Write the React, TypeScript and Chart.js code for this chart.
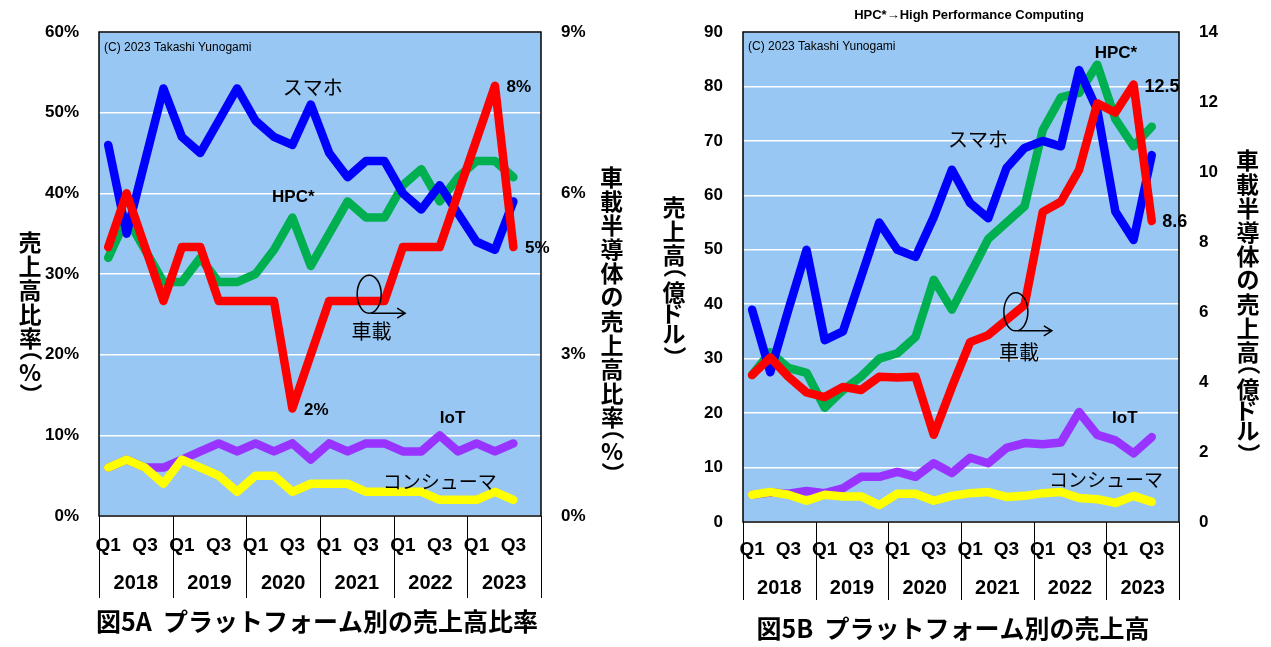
import React, { useEffect, useRef } from 'react';
import { Chart, registerables } from 'chart.js';

Chart.register(...registerables);

// ---------- categories ----------
const years = ['2018', '2019', '2020', '2021', '2022', '2023'];
const quarters = ['Q1', 'Q2', 'Q3', 'Q4'];
const quarterLabels = years.flatMap((y) => quarters.map((q) => `${y} ${q}`));
const shownQuarterTicks = ['Q1', 'Q3'];

// ---------- Fig 5A : share of sales (%) ----------
const shareSmartphone = [46, 35, 44, 53, 47, 45, 49, 53, 49, 47, 46, 51, 45, 42, 44, 44, 40, 38, 41, 37.5, 34, 33, 39];
const shareHPC = [32, 37, 33, 29, 29, 32, 29, 29, 30, 33, 37, 31, 35, 39, 37, 37, 41, 43, 39, 42, 44, 44, 42];
const shareIoT = [6, 7, 6, 6, 7, 8, 9, 8, 9, 8, 9, 7, 9, 8, 9, 9, 8, 8, 10, 8, 9, 8, 9];
const shareConsumer = [6, 7, 6, 4, 7, 6, 5, 3, 5, 5, 3, 4, 4, 4, 3, 3, 3, 3, 2, 2, 2, 3, 2];
const shareAutomotive = [5, 6, 5, 4, 5, 5, 4, 4, 4, 4, 2, 3, 4, 4, 4, 4, 5, 5, 5, 6, 7, 8, 5];

// ---------- Fig 5B : sales (100M USD) ----------
const salesSmartphone = [39, 27.5, 39, 50, 33.4, 35, 45, 55, 50, 48.7, 56, 64.7, 58.6, 55.8, 65, 68.7, 70, 69, 83, 75.7, 57, 51.8, 67.4];
const salesHPC = [27, 31.2, 28.3, 27.4, 21, 24.2, 26.7, 30, 31, 34, 44.5, 39, 45.5, 52, 55, 58, 72, 78, 78.8, 84, 74, 69, 72.6];
const salesIoT = [5, 5.4, 5.2, 5.7, 5.3, 6.2, 8.3, 8.3, 9.2, 8.3, 10.8, 9, 11.8, 10.8, 13.6, 14.5, 14.3, 14.6, 20.2, 16, 15, 12.6, 15.6];
const salesConsumer = [5, 5.5, 5, 3.9, 5, 4.7, 4.7, 3.1, 5.2, 5.2, 3.9, 4.8, 5.3, 5.5, 4.6, 4.8, 5.3, 5.5, 4.4, 4.2, 3.5, 4.8, 3.7];
const salesAutomotive = [4.2, 4.7, 4.15, 3.7, 3.57, 3.86, 3.77, 4.15, 4.13, 4.15, 2.49, 3.86, 5.14, 5.34, 5.77, 6.2, 8.86, 9.15, 10.06, 11.96, 11.7, 12.5, 8.6];

// ---------- styles ----------
const COLORS = {
  smartphone: '#0000FF',
  hpc: '#00B050',
  iot: '#9933FF',
  consumer: '#FFFF00',
  automotive: '#FF0000',
  plot: '#97C7F2',
};
const SANS = '"Liberation Sans", Arial, sans-serif';
const JP = '"Noto Sans CJK JP", sans-serif';

function drawVertical(ctx: CanvasRenderingContext2D, text: string, cx: number, cy: number, font: string) {
  const adv = (ch: string) =>
    ch === '（' || ch === '）' ? 13 : ch === '%' ? 18 : ch === 'ド' || ch === 'ル' ? 20 : 24;
  const chars = Array.from(text);
  const total = chars.reduce((s, c) => s + adv(c), 0);
  let y = cy - total / 2;
  ctx.save();
  ctx.font = font;
  ctx.fillStyle = '#000';
  for (const ch of chars) {
    const a = adv(ch);
    const yc = y + a / 2;
    ctx.textAlign = 'left';
    ctx.textBaseline = 'alphabetic';
    const m = ctx.measureText(ch);
    const vx = (m.actualBoundingBoxRight - m.actualBoundingBoxLeft) / 2;
    const vy = (m.actualBoundingBoxDescent - m.actualBoundingBoxAscent) / 2;
    ctx.save();
    ctx.translate(cx, yc);
    if (ch === '（' || ch === '）') ctx.rotate(Math.PI / 2);
    ctx.fillText(ch, -vx, -vy);
    ctx.restore();
    y += a;
  }
  ctx.restore();
}

const decoPlugin = {
  id: 'deco',
  beforeDraw(chart: any) {
    const { ctx, chartArea: a } = chart;
    ctx.save();
    ctx.fillStyle = '#fff';
    ctx.fillRect(0, 0, chart.width, chart.height);
    ctx.fillStyle = COLORS.plot;
    ctx.fillRect(a.left, a.top, a.right - a.left, a.bottom - a.top);
    ctx.restore();
  },
  afterDraw(chart: any, _args: any, opts: any) {
    const { ctx, chartArea: a } = chart;
    const xs = chart.scales.x;
    ctx.save();
    // plot border
    ctx.strokeStyle = '#000';
    ctx.lineWidth = 1.5;
    ctx.strokeRect(a.left, a.top, a.right - a.left, a.bottom - a.top);

    // year separators and year labels
    ctx.lineWidth = 1;
    for (let k = 0; k <= years.length; k++) {
      const x = Math.round(xs.getPixelForValue(k * 4 - 0.5)) + 0.5;
      ctx.beginPath();
      ctx.moveTo(x, a.bottom);
      ctx.lineTo(x, a.bottom + opts.sepLen);
      ctx.stroke();
    }
    ctx.fillStyle = '#000';
    ctx.font = `bold 20px ${SANS}`;
    ctx.textAlign = 'center';
    ctx.textBaseline = 'middle';
    years.forEach((y, k) => {
      ctx.fillText(y, xs.getPixelForValue(k * 4 + 1.5), a.bottom + opts.yearDy);
    });

    // figure caption
    ctx.font = `bold 25px ${JP}`;
    ctx.fillText(opts.caption, (a.left + a.right) / 2 + opts.captionDx, a.bottom + opts.captionDy);

    // subtitle
    if (opts.subtitle) {
      ctx.font = `bold 13px ${SANS}`;
      ctx.fillText(opts.subtitle, (a.left + a.right) / 2 + opts.subtitleDx, opts.subtitleY);
    }

    // vertical axis titles
    drawVertical(ctx, opts.leftTitle, a.left - 69, opts.leftTitleY, `bold 23px ${JP}`);
    drawVertical(ctx, opts.rightTitle, a.right + opts.rightTitleDx, opts.rightTitleY, `bold 23px ${JP}`);

    // annotations (data coordinates)
    const ys = chart.scales.y;
    for (const n of opts.notes) {
      ctx.font = n.font;
      ctx.textAlign = n.align || 'center';
      ctx.textBaseline = 'middle';
      ctx.fillStyle = '#000';
      ctx.fillText(n.text, xs.getPixelForValue(n.x), ys.getPixelForValue(n.y));
    }

    // ellipse marker with arrow pointing to the right axis
    const e = opts.ellipse;
    const ex = xs.getPixelForValue(e.x);
    const ey = ys.getPixelForValue(e.y);
    ctx.strokeStyle = '#000';
    ctx.lineWidth = 1.5;
    ctx.beginPath();
    ctx.ellipse(ex, ey, 12, 19, 0, 0, Math.PI * 2);
    ctx.stroke();
    const ay = ey + 19;
    const ax0 = ex + 2;
    const ax1 = ex + 36;
    ctx.beginPath();
    ctx.moveTo(ax0, ay);
    ctx.lineTo(ax1, ay);
    ctx.moveTo(ax1 - 8, ay - 5);
    ctx.lineTo(ax1, ay);
    ctx.lineTo(ax1 - 8, ay + 5);
    ctx.stroke();
    ctx.restore();
  },
};

function lineDs(label: string, data: number[], color: string, axis: string) {
  return {
    label,
    data,
    borderColor: color,
    backgroundColor: color,
    borderWidth: 8.5,
    borderJoinStyle: 'round' as const,
    borderCapStyle: 'round' as const,
    pointRadius: 0,
    pointHoverRadius: 0,
    tension: 0,
    fill: false,
    yAxisID: axis,
  };
}

function makeConfig(p: any) {
  const tickFont = { family: SANS, size: 17, weight: 'bold' as const };
  return {
    type: 'line' as const,
    data: {
      labels: quarterLabels,
      datasets: [
        lineDs('車載', p.automotive, COLORS.automotive, 'y1'),
        lineDs('スマホ', p.smartphone, COLORS.smartphone, 'y'),
        lineDs('HPC*', p.hpc, COLORS.hpc, 'y'),
        lineDs('コンシューマ', p.consumer, COLORS.consumer, 'y'),
        lineDs('IoT', p.iot, COLORS.iot, 'y'),
      ],
    },
    options: {
      responsive: false,
      animation: false as const,
      events: [],
      layout: { padding: { top: 32, left: 0, right: 0, bottom: 0 } },
      plugins: {
        legend: { display: false },
        tooltip: { enabled: false },
        title: { display: false },
        deco: p.deco,
      },
      scales: {
        x: {
          type: 'category' as const,
          offset: true,
          grid: { display: false, drawTicks: false },
          border: { display: false },
          ticks: {
            autoSkip: false,
            maxRotation: 0,
            minRotation: 0,
            padding: p.qPad,
            color: '#000',
            font: { family: SANS, size: 19, weight: 'bold' as const },
            callback: (_v: any, i: number) => {
              const q = quarters[i % 4];
              return shownQuarterTicks.includes(q) ? q : '';
            },
          },
          afterFit: (s: any) => {
            s.height = p.xHeight;
            s.paddingLeft = 0;
            s.paddingRight = 0;
          },
        },
        y: {
          position: 'left' as const,
          min: 0,
          max: p.yMax,
          ticks: {
            stepSize: p.yStep,
            padding: 20,
            color: '#000',
            font: tickFont,
            callback: (v: any) => `${v}${p.ySuffix}`,
          },
          grid: { color: '#FFFFFF', lineWidth: 1.5, drawTicks: false },
          border: { display: false },
          afterFit: (s: any) => {
            s.width = p.yWidth;
            s.paddingTop = 0;
            s.paddingBottom = 0;
          },
        },
        y1: {
          position: 'right' as const,
          min: 0,
          max: p.y1Max,
          ticks: {
            stepSize: p.y1Step,
            padding: 20,
            color: '#000',
            font: tickFont,
            callback: (v: any) => `${v}${p.ySuffix}`,
          },
          grid: { display: false, drawTicks: false },
          border: { display: false },
          afterFit: (s: any) => {
            s.width = p.y1Width;
            s.paddingTop = 0;
            s.paddingBottom = 0;
          },
        },
      },
    },
    plugins: [decoPlugin],
  };
}

const jpNote = `20px ${JP}`;
const boldNote = `bold 17px ${SANS}`;
const copyNote = `12px ${SANS}`;

const configA = makeConfig({
  smartphone: shareSmartphone,
  hpc: shareHPC,
  iot: shareIoT,
  consumer: shareConsumer,
  automotive: shareAutomotive,
  yMax: 60,
  yStep: 10,
  y1Max: 9,
  y1Step: 3,
  ySuffix: '%',
  yWidth: 99,
  y1Width: 94,
  xHeight: 131,
  qPad: 18,
  deco: {
    sepLen: 82,
    yearDy: 67,
    caption: '図5A  プラットフォーム別の売上高比率',
    captionDx: -3,
    captionDy: 105,
    leftTitle: '売上高比率（%）',
    leftTitleY: 312,
    rightTitle: '車載半導体の売上高比率（%）',
    rightTitleDx: 71,
    rightTitleY: 319,
    notes: [
      { text: '(C) 2023 Takashi Yunogami', x: -0.23, y: 58.1, font: copyNote, align: 'left' },
      { text: 'スマホ', x: 11.1, y: 53.1, font: jpNote },
      { text: 'HPC*', x: 10.05, y: 39.5, font: boldNote },
      { text: '車載', x: 14.3, y: 22.9, font: jpNote },
      { text: '2%', x: 11.3, y: 13.1, font: boldNote },
      { text: '8%', x: 22.3, y: 53.1, font: boldNote },
      { text: '5%', x: 23.3, y: 33.2, font: boldNote },
      { text: 'IoT', x: 18.7, y: 12.1, font: boldNote },
      { text: 'コンシューマ', x: 18.0, y: 4.2, font: `19px ${JP}` },
    ],
    ellipse: { x: 14.17, y: 27.5 },
  },
});

const configB = makeConfig({
  smartphone: salesSmartphone,
  hpc: salesHPC,
  iot: salesIoT,
  consumer: salesConsumer,
  automotive: salesAutomotive,
  yMax: 90,
  yStep: 10,
  y1Max: 14,
  y1Step: 2,
  ySuffix: '',
  yWidth: 108,
  y1Width: 92,
  xHeight: 125,
  qPad: 16,
  deco: {
    sepLen: 78,
    yearDy: 66,
    caption: '図5B  プラットフォーム別の売上高',
    captionDx: -8,
    captionDy: 106,
    subtitle: 'HPC*→High Performance Computing',
    subtitleDx: 8,
    subtitleY: 15,
    leftTitle: '売上高（億ドル）',
    leftTitleY: 276,
    rightTitle: '車載半導体の売上高（億ドル）',
    rightTitleDx: 69,
    rightTitleY: 301,
    notes: [
      { text: '(C) 2023 Takashi Yunogami', x: -0.22, y: 87.25, font: copyNote, align: 'left' },
      { text: 'スマホ', x: 12.43, y: 70.2, font: jpNote },
      { text: 'HPC*', x: 20.03, y: 86.1, font: boldNote },
      { text: '12.5', x: 22.56, y: 79.9, font: `bold 18px ${SANS}` },
      { text: '8.6', x: 23.27, y: 55.1, font: `bold 18px ${SANS}` },
      { text: '車載', x: 14.69, y: 31.2, font: jpNote },
      { text: 'IoT', x: 20.52, y: 19.1, font: boldNote },
      { text: 'コンシューマ', x: 19.48, y: 7.7, font: `19px ${JP}` },
    ],
    ellipse: { x: 14.52, y: 38.6 },
  },
});

function ChartPanel({ config, left, width }: { config: any; left: number; width: number }) {
  const ref = useRef<HTMLCanvasElement | null>(null);
  useEffect(() => {
    if (!ref.current) return;
    const chart = new Chart(ref.current, config);
    return () => chart.destroy();
  }, [config]);
  return (
    <div style={{ position: 'absolute', left, top: 0, width, height: 647 }}>
      <canvas ref={ref} width={width} height={647} style={{ display: 'block', width, height: 647 }} />
    </div>
  );
}

export default function App() {
  return (
    <div style={{ position: 'absolute', left: 0, top: 0, width: 1271, height: 647, background: '#fff', overflow: 'hidden' }}>
      <ChartPanel config={configA} left={0} width={635} />
      <ChartPanel config={configB} left={635} width={636} />
    </div>
  );
}
